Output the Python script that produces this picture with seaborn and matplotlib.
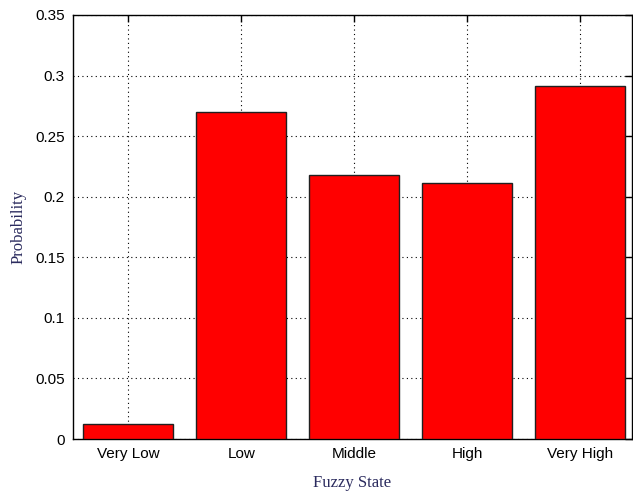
import matplotlib
matplotlib.use("Agg")
import matplotlib.pyplot as plt
import seaborn as sns
import pandas as pd

# Fuzzy state distribution
states = ["Very Low", "Low", "Middle", "High", "Very High"]
probabilities = [0.012, 0.270, 0.218, 0.211, 0.291]
y_ticks = [0, 0.05, 0.1, 0.15, 0.2, 0.25, 0.3, 0.35]
y_tick_labels = ["0", "0.05", "0.1", "0.15", "0.2", "0.25", "0.3", "0.35"]

df = pd.DataFrame({"state": states, "probability": probabilities})

sns.set_style("white")
plt.rcParams["font.family"] = ["Liberation Sans", "DejaVu Sans"]

fig = plt.figure(figsize=(6.33, 4.91), dpi=100)
ax = fig.add_axes([0.1153, 0.1059, 0.8830, 0.8636])

sns.barplot(data=df, x="state", y="probability", color="#ff0000",
            saturation=1, width=0.8, edgecolor="#202020", linewidth=1.0,
            ax=ax, zorder=3)

ax.set_xlim(-0.49, 4.46)
ax.set_ylim(0, 0.35)
ax.set_yticks(y_ticks)
ax.set_yticklabels(y_tick_labels)

# MATLAB-like box with dotted grid and inward ticks on all sides
ax.grid(True, linestyle=(0, (1, 3)), color="black", linewidth=0.8, zorder=0)
ax.set_axisbelow(True)
ax.tick_params(direction="in", length=5, width=1, top=True, right=True,
               labelsize=11, colors="black", pad=6)
for side in ax.spines.values():
    side.set_visible(True)
    side.set_color("black")
    side.set_linewidth(1.0)

label_color = "#2b2b5e"
ax.set_xlabel("Fuzzy State", family=["Liberation Serif"], fontsize=12,
              color=label_color, labelpad=10)
ax.set_ylabel("Probability", family=["Liberation Serif"], fontsize=12,
              color=label_color, labelpad=6)

fig.savefig("out.png", dpi=100)
